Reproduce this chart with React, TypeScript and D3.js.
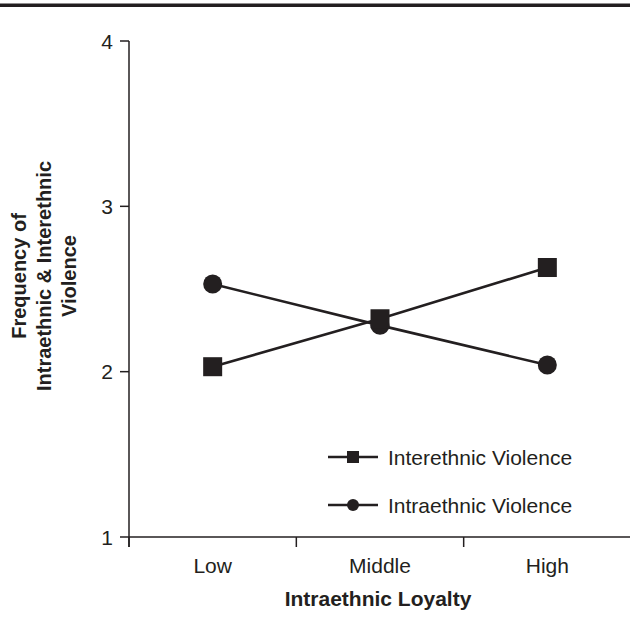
import * as d3 from "d3";

const categories = ["Low", "Middle", "High"];
const interethnic = [2.03, 2.32, 2.63];
const intraethnic = [2.53, 2.28, 2.04];
const yTicks = [1, 2, 3, 4];

const INK = "#231f20";
const FONT = "'Liberation Sans', Arial, sans-serif";

export default function App() {
  const width = 630;
  const height = 630;
  const left = 129;
  const right = 631;
  const top = 41;
  const bottom = 537;

  const x = d3.scaleBand<string>().domain(categories).range([left, right]).padding(0);
  const y = d3.scaleLinear().domain([1, 4]).range([bottom, top]);
  const cx = (c: string) => (x(c) ?? 0) + x.bandwidth() / 2;

  const line = d3
    .line<number>()
    .x((_, i) => cx(categories[i]))
    .y((d) => y(d));

  const edges = [...categories.map((c) => x(c) ?? 0), right];
  const sq = 19;
  const legend = [
    { label: "Interethnic Violence", shape: "square" },
    { label: "Intraethnic Violence", shape: "circle" },
  ];

  return (
    <svg
      width={width}
      height={height}
      style={{ position: "absolute", left: 0, top: 0, background: "#fff" }}
      fontFamily={FONT}
    >
      <rect x={0} y={3.5} width={width} height={3.5} fill={INK} />

      {/* axes */}
      <line x1={left} x2={left} y1={top} y2={bottom + 10} stroke={INK} strokeWidth={1.5} />
      <line x1={left} x2={right} y1={bottom} y2={bottom} stroke={INK} strokeWidth={1.5} />
      {yTicks.map((t) => (
        <g key={t}>
          <line x1={left - 9} x2={left} y1={y(t)} y2={y(t)} stroke={INK} strokeWidth={1.5} />
          <text x={left - 16} y={y(t)} dy="0.36em" textAnchor="end" fontSize={21} fill={INK}>
            {t}
          </text>
        </g>
      ))}
      {edges.map((e, i) => (
        <line key={i} x1={e} x2={e} y1={bottom} y2={bottom + 10} stroke={INK} strokeWidth={1.5} />
      ))}
      {categories.map((c) => (
        <text key={c} x={cx(c)} y={bottom + 36} textAnchor="middle" fontSize={21} fill={INK}>
          {c}
        </text>
      ))}
      <text x={(left + right) / 2 - 2} y={606} textAnchor="middle" fontSize={21} fontWeight="bold" fill={INK}>
        Intraethnic Loyalty
      </text>
      <g transform="translate(0,276) rotate(-90)" fontSize={20} fontWeight="bold" fill={INK} textAnchor="middle">
        <text x={0} y={26}>Frequency of</text>
        <text x={0} y={51}>Intraethnic &amp; Interethnic</text>
        <text x={0} y={76}>Violence</text>
      </g>

      {/* series */}
      <path d={line(interethnic) ?? ""} fill="none" stroke={INK} strokeWidth={2.6} />
      <path d={line(intraethnic) ?? ""} fill="none" stroke={INK} strokeWidth={2.6} />
      {intraethnic.map((v, i) => (
        <circle key={"c" + i} cx={cx(categories[i])} cy={y(v)} r={9.5} fill={INK} />
      ))}
      {interethnic.map((v, i) => (
        <rect key={"s" + i} x={cx(categories[i]) - sq / 2} y={y(v) - sq / 2} width={sq} height={sq} fill={INK} />
      ))}

      {/* legend */}
      {legend.map((l, i) => {
        const ly = 457 + i * 48;
        return (
          <g key={l.label}>
            <line x1={328} x2={378} y1={ly} y2={ly} stroke={INK} strokeWidth={2.6} />
            {l.shape === "square" ? (
              <rect x={347} y={ly - 6} width={12} height={12} fill={INK} />
            ) : (
              <circle cx={353} cy={ly} r={6} fill={INK} />
            )}
            <text x={388} y={ly} dy="0.36em" fontSize={21} fill={INK}>
              {l.label}
            </text>
          </g>
        );
      })}
    </svg>
  );
}
